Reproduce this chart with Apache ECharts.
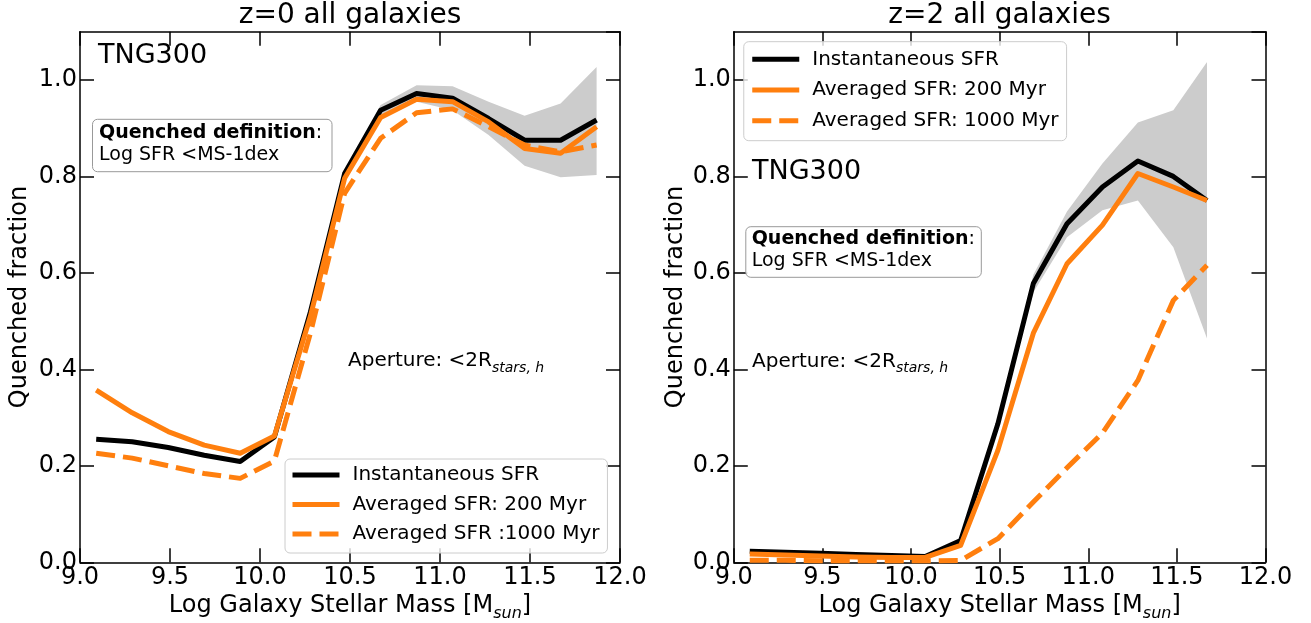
<!DOCTYPE html>
<html><head><meta charset="utf-8">
<script src="https://cdn.jsdelivr.net/npm/echarts/dist/echarts.min.js"></script>
<style>html,body{margin:0;padding:0;background:#fff}#c{width:1311px;height:623px}</style>
</head><body><div id="c"></div>
<script>
// ---------- data ----------
const massL    = [9.09, 9.29, 9.49, 9.69, 9.89, 10.08, 10.28, 10.47, 10.67, 10.87, 11.07, 11.27, 11.47, 11.67, 11.87];
const instL    = [0.255, 0.250, 0.238, 0.222, 0.209, 0.260, 0.519, 0.806, 0.937, 0.972, 0.962, 0.920, 0.875, 0.875, 0.917];
const avg200L  = [0.357, 0.310, 0.271, 0.243, 0.226, 0.262, 0.510, 0.796, 0.922, 0.960, 0.955, 0.913, 0.858, 0.848, 0.903];
const avg1000L = [0.226, 0.216, 0.200, 0.184, 0.174, 0.210, 0.475, 0.765, 0.879, 0.932, 0.940, 0.903, 0.865, 0.851, 0.865];
const bandMassL = [10.47, 10.67, 10.87, 11.07, 11.27, 11.47, 11.67, 11.87];
const bandLoL   = [0.800, 0.926, 0.955, 0.937, 0.886, 0.822, 0.798, 0.803];
const bandHiL   = [0.812, 0.948, 0.989, 0.987, 0.955, 0.926, 0.951, 1.027];

const massR    = [9.09, 9.29, 9.49, 9.69, 9.89, 10.08, 10.28, 10.49, 10.69, 10.88, 11.08, 11.28, 11.48, 11.67];
const instR    = [0.023, 0.021, 0.019, 0.016, 0.014, 0.012, 0.045, 0.287, 0.578, 0.702, 0.778, 0.832, 0.800, 0.750];
const avg200R  = [0.017, 0.015, 0.013, 0.011, 0.010, 0.010, 0.035, 0.232, 0.475, 0.619, 0.699, 0.806, 0.778, 0.750];
const avg1000R = [0.004, 0.004, 0.003, 0.003, 0.003, 0.003, 0.004, 0.049, 0.125, 0.196, 0.268, 0.377, 0.543, 0.616];
const bandMassR = [10.49, 10.69, 10.88, 11.08, 11.28, 11.48, 11.67];
const bandLoR   = [0.281, 0.560, 0.674, 0.730, 0.750, 0.653, 0.464];
const bandHiR   = [0.294, 0.596, 0.727, 0.827, 0.912, 0.937, 1.037];

const namesL = ['Instantaneous SFR', 'Averaged SFR: 200 Myr', 'Averaged SFR :1000 Myr'];
const namesR = ['Instantaneous SFR', 'Averaged SFR: 200 Myr', 'Averaged SFR: 1000 Myr'];
const titles = ['z=0 all galaxies', 'z=2 all galaxies'];
const xTickMin = 9, xTickMax = 12, xTickStep = 0.5;
const yTickMin = 0, yTickMax = 1.1, yTickStep = 0.2;

// ---------- styling ----------
const FONT = 'DejaVu Sans';
const ORANGE = '#ff7f0e';
const BAND = '#cccccc';
const DASH = [19, 8];

const zip = (xs, ys) => xs.map((x, i) => [x, ys[i]]);

function xAx(gi, pos, labels) {
  return {
    type: 'value', gridIndex: gi, position: pos, min: xTickMin, max: xTickMax, interval: xTickStep,
    axisLine: { show: true, onZero: false, lineStyle: { color: '#000', width: 1.5 } },
    axisTick: { show: true, inside: true, length: 14, lineStyle: { color: '#000', width: 1.5 } },
    axisLabel: { show: labels, margin: 3, color: '#000', fontSize: 24, fontFamily: FONT,
      showMinLabel: true, showMaxLabel: true, formatter: v => v.toFixed(1) },
    splitLine: { show: false },
    name: labels ? 'Log Galaxy Stellar Mass [M{s|sun}]' : '',
    nameLocation: 'middle', nameGap: 24,
    nameTextStyle: { color: '#000', fontSize: 24, fontFamily: FONT,
      rich: { s: { color: '#000', fontSize: 16, fontStyle: 'italic', fontFamily: FONT, padding: [16, 0, 0, 0] } } }
  };
}
function yAx(gi, pos, labels, gap) {
  return {
    type: 'value', gridIndex: gi, position: pos, min: yTickMin, max: yTickMax, interval: yTickStep,
    axisLine: { show: true, onZero: false, lineStyle: { color: '#000', width: 1.5 } },
    axisTick: { show: true, inside: true, length: 14, lineStyle: { color: '#000', width: 1.5 } },
    axisLabel: { show: labels, margin: 3, color: '#000', fontSize: 24, fontFamily: FONT,
      showMinLabel: true, showMaxLabel: false,
      formatter: v => (v > 1.05 ? '' : v.toFixed(1)) },
    splitLine: { show: false },
    name: labels ? 'Quenched fraction' : '',
    nameLocation: 'middle', nameGap: gap,
    nameTextStyle: { color: '#000', fontSize: 24, fontFamily: FONT }
  };
}

function lineSeries(name, xs, ys, axIdx, color, dashed, z) {
  return {
    type: 'line', name, data: zip(xs, ys), xAxisIndex: axIdx, yAxisIndex: axIdx,
    symbol: 'none', showSymbol: false, smooth: false, z, animation: false, silent: true,
    lineStyle: { color, width: 5, type: dashed ? DASH : 'solid', cap: 'butt', join: 'round' },
    itemStyle: { color }
  };
}
// shaded band drawn as one polygon, every vertex placed through the axes with api.coord
function bandSeries(xs, lo, hi, axIdx) {
  return {
    type: 'custom', xAxisIndex: axIdx, yAxisIndex: axIdx, z: 1, silent: true, animation: false,
    data: xs.map((x, i) => [x, lo[i], hi[i]]),
    encode: { x: 0, y: [1, 2] },
    renderItem: (params, api) => {
      if (params.dataIndex !== 0) return null;
      const pts = [];
      xs.forEach((x, i) => pts.push(api.coord([x, hi[i]])));
      for (let i = xs.length - 1; i >= 0; i--) pts.push(api.coord([xs[i], lo[i]]));
      return { type: 'polygon', shape: { points: pts }, style: { fill: BAND, stroke: null } };
    }
  };
}

function legendCfg(data, left, top, padding, gap) {
  return {
    data, left, top, orient: 'vertical', padding, itemWidth: 47, itemHeight: 20, itemGap: gap,
    backgroundColor: 'rgba(255,255,255,0.8)', borderColor: '#cccccc', borderWidth: 1, borderRadius: 5,
    textStyle: { fontSize: 20, fontFamily: FONT, color: '#000', padding: [0, 0, 0, 8] },
    lineStyle: { width: 5 }, itemStyle: { opacity: 0, borderWidth: 0 },
    selectedMode: false, z: 10
  };
}

function txt(x, y, text, size, extra) {
  return {
    type: 'text', x, y, z: 20, silent: true,
    style: Object.assign({ text, fontSize: size, fontFamily: FONT, fill: '#000', align: 'left', verticalAlign: 'middle' }, extra || {})
  };
}
function box(x, y, w, h) {
  return { type: 'rect', z: 15, silent: true, shape: { x, y, width: w, height: h, r: 5 },
    style: { fill: 'rgba(255,255,255,0.9)', stroke: '#999999', lineWidth: 1 } };
}
const boldRich = { b: { fontWeight: 'bold', fontSize: 19, fontFamily: FONT, fill: '#000' } };
const subRich = { s: { fontStyle: 'italic', fontSize: 14, fontFamily: FONT, fill: '#000', padding: [14, 0, 0, 0] } };

const option = {
  backgroundColor: '#fff',
  animation: false,
  grid: [
    { left: 80, top: 31.7, width: 540, height: 530.6, outerBoundsMode: 'none', containLabel: false },
    { left: 733.8, top: 31.7, width: 531.7, height: 530.6, outerBoundsMode: 'none', containLabel: false }
  ],
  xAxis: [xAx(0, 'bottom', true), xAx(1, 'bottom', true), xAx(0, 'top', false), xAx(1, 'top', false)],
  yAxis: [yAx(0, 'left', true, 48), yAx(1, 'left', true, 46), yAx(0, 'right', false, 0), yAx(1, 'right', false, 0)],
  legend: [
    legendCfg(namesL, 285, 459, [6, 8, 9, 5], 9.5),
    legendCfg(namesR, 743.75, 41.7, [7.6, 8, 10, 6], 10.7)
  ],
  series: [
    bandSeries(bandMassL, bandLoL, bandHiL, 0),
    lineSeries(namesL[0], massL, instL, 0, '#000', false, 3),
    lineSeries(namesL[1], massL, avg200L, 0, ORANGE, false, 4),
    lineSeries(namesL[2], massL, avg1000L, 0, ORANGE, true, 5),
    bandSeries(bandMassR, bandLoR, bandHiR, 1),
    lineSeries(namesR[0], massR, instR, 1, '#000', false, 3),
    lineSeries(namesR[1], massR, avg200R, 1, ORANGE, false, 4),
    lineSeries(namesR[2], massR, avg1000R, 1, ORANGE, true, 5)
  ],
  graphic: [
    txt(350, 15.3, titles[0], 28, { align: 'center' }),
    txt(999.6, 15.3, titles[1], 28, { align: 'center' }),
    txt(98, 55.7, 'TNG300', 27),
    txt(752, 172.4, 'TNG300', 27),
    box(92.5, 119.3, 239.5, 52.4),
    txt(99, 132.7, '{b|Quenched definition}:', 19, { rich: boldRich }),
    txt(99, 155.1, 'Log SFR <MS-1dex', 19),
    box(745.8, 226.7, 235.5, 50.6),
    txt(751.7, 239.4, '{b|Quenched definition}:', 19, { rich: boldRich }),
    txt(751.7, 261, 'Log SFR <MS-1dex', 19),
    txt(348, 361.1, 'Aperture: <2R{s|stars, h}', 20, { rich: subRich }),
    txt(752, 361.4, 'Aperture: <2R{s|stars, h}', 20, { rich: subRich })
  ]
};
const chart = echarts.init(document.getElementById('c'), null, { renderer: 'canvas' });
chart.setOption(option);
</script>
</body></html>
